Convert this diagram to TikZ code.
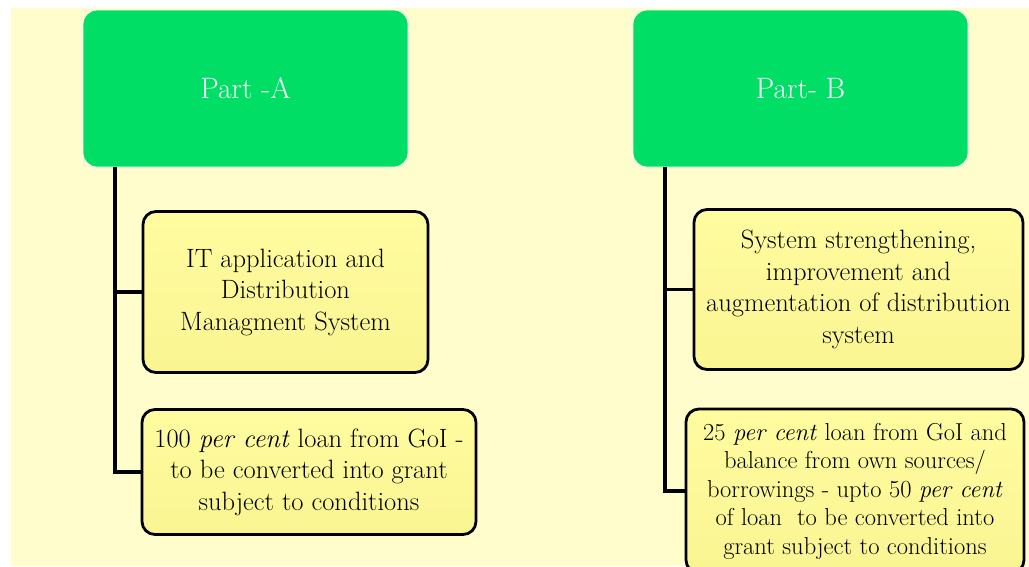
\documentclass[tikz,border=0pt]{standalone}
\usepackage{fontspec}
\definecolor{bgyellow}{HTML}{FFFDCC}
\definecolor{partgreen}{HTML}{00DE66}
\definecolor{boxtop}{HTML}{FFFCA0}
\definecolor{boxbot}{HTML}{FAF592}
\begin{document}
\begin{tikzpicture}[x=1pt,y=-1pt,
  partbox/.style={draw=white, line width=0.8pt, fill=partgreen, rounded corners=14pt,
    text=white, font=\fontsize{29.5}{34}\selectfont, inner sep=0pt},
  itembox/.style={draw=black, line width=2.8pt, top color=boxtop, bottom color=boxbot,
    rounded corners=13pt, align=center, inner sep=0pt, font=\fontsize{26.5}{31.5}\selectfont},
  conn/.style={draw=black, line width=3.2pt}]
\useasboundingbox (0,0) rectangle (1029,566);
\begin{scope}
\clip (0,0) rectangle (1029,566);
\fill[bgyellow] (11,8) rectangle (1029,566);
% Part A
\node[partbox, minimum width=325pt, minimum height=157pt] (pa) at (245.5,88.5) {Part -A};
\node[itembox, minimum width=285pt, minimum height=161pt] (a1) at (285.5,292) {IT application and\\Distribution\\Managment System};
\node[itembox, minimum width=334pt, minimum height=125pt] (a2) at (309,472) {100 \textit{per cent} loan from GoI -\\to be converted into grant\\subject to conditions};
\coordinate (ja) at (115,167);
\draw[conn] (ja) |- (a1.west);
\draw[conn] (ja) |- (a2.west);
% Part B
\node[partbox, minimum width=335pt, minimum height=157pt] (pb) at (800.5,88.5) {Part- B};
\node[itembox, minimum width=329pt, minimum height=160pt] (b1) at (858.5,289.5) {System strengthening,\\improvement and\\augmentation of distribution\\system};
\node[itembox, minimum width=338pt, minimum height=164pt, font=\fontsize{24.5}{28.5}\selectfont] (b2) at (855,491) {25 \textit{per cent} loan from GoI and\\balance from own sources/\\borrowings - upto 50 \textit{per cent}\\of loan\ \ to be converted into\\grant subject to conditions};
\coordinate (jb) at (665,167);
\draw[conn] (jb) |- (b1.west);
\draw[conn] (jb) |- (b2.west);
\end{scope}
\end{tikzpicture}
\end{document}
